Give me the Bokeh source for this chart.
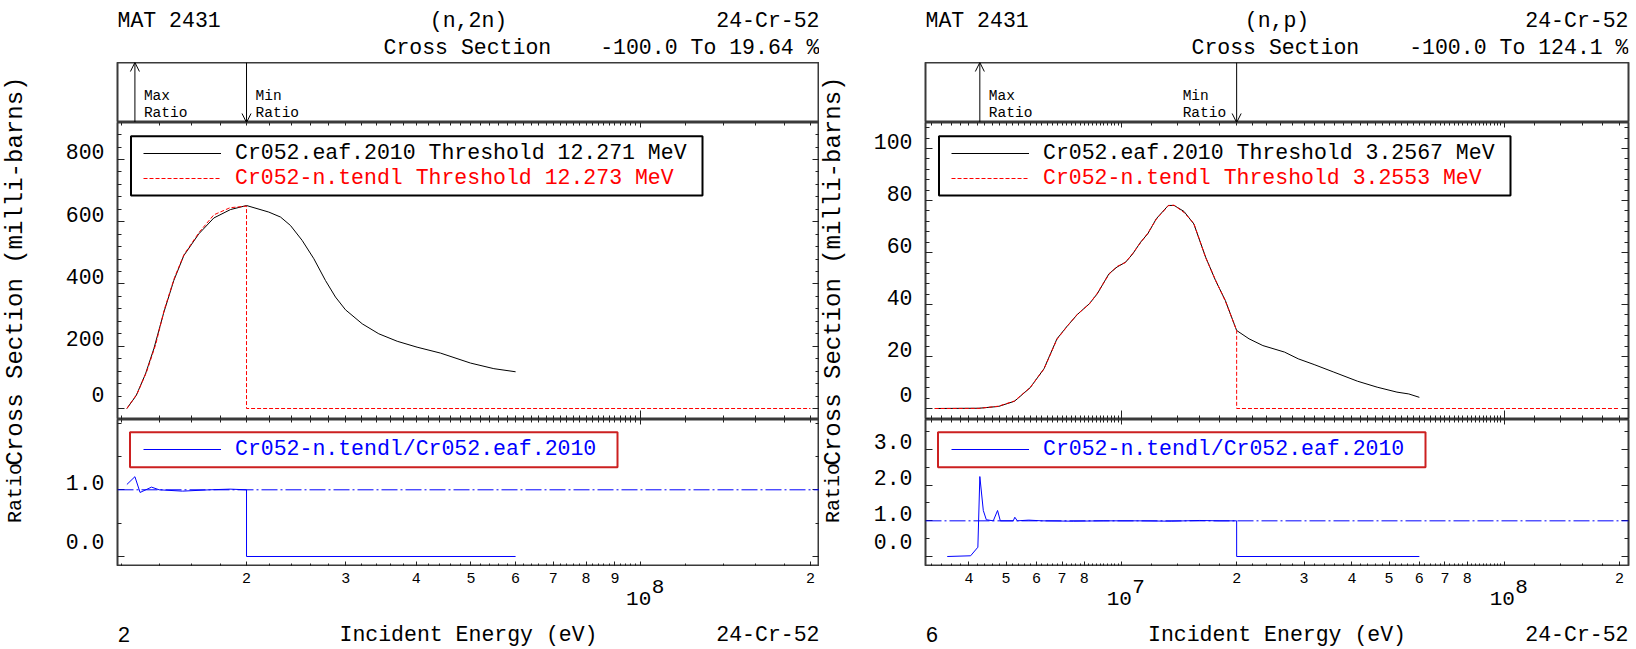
import math
import numpy as np
from bokeh.plotting import figure
from bokeh.models import (Range1d, LogAxis, LinearAxis, FixedTicker, CustomJSTickFormatter,
                          Label, Arrow, OpenHead, Span, BoxAnnotation, Legend, LegendItem)
from bokeh.layouts import column, row
from bokeh.embed import file_html
from bokeh.resources import INLINE
from bokeh.core.properties import value

# ---------------- data ----------------
mat_label = "MAT 2431"
nuclide = "24-Cr-52"
eaf_name = "Cr052.eaf.2010"
tendl_name = "Cr052-n.tendl"
quantity = "Cross Section"
x_title = "Incident Energy (eV)"
y_title_main = "Cross Section (milli-barns)"
y_title_ratio = "Ratio"

# ---- panel 1 : (n,2n)
n2n_reaction = "(n,2n)"
n2n_range_text = "-100.0 To 19.64 %"
n2n_page = "2"
n2n_eaf_threshold = "12.271 MeV"
n2n_tendl_threshold = "12.273 MeV"
n2n_eaf_e = [1.2271e7, 1.275e7, 1.324e7, 1.37e7, 1.427e7, 1.486e7, 1.548e7, 1.646e7, 1.75e7,
             1.873e7, 2.0e7, 2.19e7, 2.298e7, 2.393e7, 2.51e7, 2.633e7, 2.761e7, 2.876e7,
             2.996e7, 3.208e7, 3.432e7, 3.70e7, 4.013e7, 4.416e7, 4.99e7, 5.49e7, 6.0e7]
n2n_eaf_xs = [0, 42, 111, 192, 309, 411, 491, 561, 612, 639, 652, 631, 615, 588, 540, 481,
              411, 358, 317, 272, 240, 216, 197, 178, 146, 128, 118]
n2n_tendl_e = [1.2273e7, 1.28e7, 1.33e7, 1.38e7, 1.43e7, 1.49e7, 1.55e7, 1.65e7, 1.75e7,
               1.87e7, 2.0e7, 2.0e7, 2.0e8]
n2n_tendl_xs = [0, 48, 118, 205, 318, 420, 495, 567, 622, 645, 650, 0, 0]
n2n_ratio_e = [1.2271e7, 1.268e7, 1.295e7, 1.357e7, 1.40e7, 1.54e7, 1.72e7, 1.87e7, 2.0e7,
               2.0e7, 6.0e7]
n2n_ratio = [1.08, 1.1964, 0.96, 1.04, 1.0, 0.98, 1.0, 1.01, 1.0, 0.0, 0.0]
n2n_x_range = (1.181e7, 2.075e8)
n2n_y_range = (-35.3, 918.7)
n2n_ratio_range = (-0.15, 2.054)
n2n_y_major = [0, 200, 400, 600, 800]
n2n_ratio_major = [0, 1]
n2n_digit_ticks = [2e7, 3e7, 4e7, 5e7, 6e7, 7e7, 8e7, 9e7, 2e8]
n2n_digit_labels = ["2", "3", "4", "5", "6", "7", "8", "9", "2"]
n2n_decades = [1e8]
n2n_decade_exps = ["8"]

# ---- panel 2 : (n,p)
np_reaction = "(n,p)"
np_range_text = "-100.0 To 124.1 %"
np_page = "6"
np_eaf_threshold = "3.2567 MeV"
np_tendl_threshold = "3.2553 MeV"
np_eaf_e = [3.2567e6, 4.25e6, 4.78e6, 5.26e6, 5.78e6, 6.28e6, 6.79e6, 7.24e6, 7.68e6, 8.25e6,
            8.65e6, 9.28e6, 9.74e6, 1.026e7, 1.071e7, 1.123e7, 1.172e7, 1.234e7, 1.326e7,
            1.373e7, 1.457e7, 1.546e7, 1.66e7, 1.762e7, 1.869e7, 2.0e7, 2.155e7, 2.342e7,
            2.667e7, 2.897e7, 3.187e7, 3.587e7, 4.136e7, 4.656e7, 5.243e7, 5.63e7, 6.0e7]
np_eaf_xs = [0, 0.1, 0.8, 2.8, 8.0, 15.3, 26.8, 31.9, 36.2, 40.3, 44.1, 51.8, 54.4, 56.3, 59.5,
             64.0, 67.2, 73.0, 78.1, 78.1, 75.8, 71.0, 58.2, 49.2, 41.5, 30.0, 26.8, 24.2,
             21.7, 19.1, 16.9, 14.0, 10.5, 8.2, 6.3, 5.6, 4.3]
np_tendl_e = [3.2553e6, 4.25e6, 4.78e6, 5.26e6, 5.78e6, 6.28e6, 6.79e6, 7.24e6, 7.68e6, 8.25e6,
              8.65e6, 9.28e6, 9.74e6, 1.026e7, 1.071e7, 1.123e7, 1.172e7, 1.234e7, 1.326e7,
              1.373e7, 1.457e7, 1.546e7, 1.66e7, 1.762e7, 1.869e7, 2.0e7, 2.0e7, 2.0e8]
np_tendl_xs = [0, 0.05, 0.9, 2.9, 8.1, 15.2, 26.6, 31.8, 36.3, 40.2, 44.3, 51.6, 54.6, 56.2,
               59.7, 63.8, 67.4, 72.8, 78.0, 78.2, 75.4, 71.2, 58.0, 49.4, 41.3, 30.0, 0, 0]
np_ratio_e = [3.51e6, 4.04e6, 4.22e6, 4.27e6, 4.36e6, 4.44e6, 4.63e6, 4.75e6, 4.83e6, 5.22e6,
              5.27e6, 5.35e6, 5.73e6, 6.2e6, 7.5e6, 9.0e6, 1.1e7, 1.35e7, 1.6e7, 1.8e7,
              2.0e7, 2.0e7, 6.0e7]
np_ratio = [0.0, 0.02, 0.26, 2.241, 1.29, 1.03, 1.0, 1.29, 1.0, 1.0, 1.10, 1.0, 1.02, 1.0,
            0.99, 1.0, 1.0, 0.99, 1.01, 1.0, 1.0, 0.0, 0.0]
np_x_range = (3.08e6, 2.11e8)
np_y_range = (-4.23, 110.0)
np_ratio_range = (-0.28, 3.84)
np_y_major = [0, 20, 40, 60, 80, 100]
np_ratio_major = [0, 1, 2, 3]
np_digit_ticks = [4e6, 5e6, 6e6, 7e6, 8e6, 2e7, 3e7, 4e7, 5e7, 6e7, 7e7, 8e7, 2e8]
np_digit_labels = ["4", "5", "6", "7", "8", "2", "3", "4", "5", "6", "7", "8", "2"]
np_decades = [1e7, 1e8]
np_decade_exps = ["7", "8"]

# ---------------- style ----------------
FONT = "Liberation Mono"
TXT = "21.5px"
FRAME = "#3a3a3a"
TICK = "#222222"
HEAD_H, TOP_H, MAIN_H, RAT_H, FOOT_H = 62, 60, 297, 147, 82
TOTAL_H = HEAD_H + TOP_H + MAIN_H + RAT_H + FOOT_H


def hidden_fmt():
    return CustomJSTickFormatter(code="return ''")


def raised_fmt(decimals):
    # labels sit a little above their tick, as in the original plot
    return CustomJSTickFormatter(code=f"return tick.toFixed({decimals}) + '\\n';")


def x_minor(lo, hi, exclude):
    out = []
    e = math.floor(math.log10(lo))
    while 10 ** e <= hi:
        d = 10 ** e
        for i in range(0, 45):
            v = d * (1 + 0.2 * i)
            if lo <= v <= hi and all(abs(v - t) > 1e-6 * v for t in exclude):
                out.append(v)
        e += 1
    return out


def add_x_axis(p, place, majors, minors, tin, min_in):
    ax = LogAxis(ticker=FixedTicker(ticks=majors, minor_ticks=minors),
                 formatter=hidden_fmt(),
                 major_tick_in=tin, major_tick_out=0, minor_tick_in=min_in, minor_tick_out=0,
                 major_tick_line_color=TICK, minor_tick_line_color=TICK,
                 axis_line_color=None, major_label_standoff=0,
                 major_label_text_font_size="0px")
    p.add_layout(ax, place)


def add_y_axis(p, place, majors, minors, fmt=None, fs="0px", standoff=0):
    ax = LinearAxis(ticker=FixedTicker(ticks=majors, minor_ticks=minors),
                    formatter=fmt if fmt is not None else hidden_fmt(),
                    major_tick_in=7, major_tick_out=0, minor_tick_in=4, minor_tick_out=0,
                    major_tick_line_color=TICK, minor_tick_line_color=TICK,
                    axis_line_color=None, major_label_standoff=standoff,
                    major_label_text_font=FONT, major_label_text_font_size=fs,
                    major_label_text_line_height=0.5,
                    major_label_text_color="black")
    p.add_layout(ax, place)


def lab(p, text, x, y, align="left", size=TXT, color="black", xu="screen",
        x_offset=0, baseline="middle", angle=0.0):
    p.add_layout(Label(x=x, y=y, x_units=xu, y_units="screen", text=text, text_font=FONT,
                       text_font_size=size, text_color=color, text_align=align,
                       text_baseline=baseline, x_offset=x_offset, angle=angle))


def title_column(w, cx):
    f = figure(frame_width=w, frame_height=TOTAL_H, x_range=Range1d(0, 1),
               y_range=Range1d(0, 1), toolbar_location=None, output_backend="svg",
               tools="", title=None, min_border=0, x_axis_location=None,
               y_axis_location=None, outline_line_color=None,
               background_fill_color="white", border_fill_color="white")
    f.grid.visible = False
    main_c = TOTAL_H - (HEAD_H + TOP_H + MAIN_H / 2)
    rat_c = TOTAL_H - (HEAD_H + TOP_H + MAIN_H + RAT_H / 2)
    lab(f, y_title_main, cx, main_c, align="center", size="24px", angle=math.pi / 2)
    lab(f, y_title_ratio, cx, rat_c, align="center", size="20px", angle=math.pi / 2)
    return f


def make_panel(c, bl, br, fw):
    xr = Range1d(*c["xr"])
    common = dict(x_axis_type="log", x_range=xr, frame_width=fw, toolbar_location=None,
                  output_backend="svg", tools="", title=None, min_border_left=bl,
                  min_border_right=br, min_border_top=0, min_border_bottom=0,
                  x_axis_location=None, y_axis_location=None,
                  background_fill_color="white", border_fill_color="white",
                  outline_line_color=FRAME, outline_line_width=2)
    head = figure(frame_height=HEAD_H, y_range=Range1d(0, 1), **common)
    top = figure(frame_height=TOP_H, y_range=Range1d(0, 1), **common)
    main = figure(frame_height=MAIN_H, y_range=Range1d(*c["yr"]), **common)
    rat = figure(frame_height=RAT_H, y_range=Range1d(*c["rr"]), **common)
    foot = figure(frame_height=FOOT_H, y_range=Range1d(0, 1), **common)
    head.outline_line_color = None
    foot.outline_line_color = None
    for f in (head, top, main, rat, foot):
        f.grid.visible = False

    # ----- header
    lab(head, mat_label, 0, 42)
    lab(head, c["reaction"], fw / 2, 42, align="center")
    lab(head, nuclide, fw, 42, align="right")
    lab(head, quantity, 266, 15)
    lab(head, c["range_text"], fw, 15, align="right")

    # ----- max / min ratio arrows
    re_ = np.array(c["ratio_e"])
    rv = np.array(c["ratio"])
    i_max = int(np.argmax(rv))
    i_min = i_max + int(np.argmin(rv[i_max:]))
    x_max = float(re_[i_max])
    x_min = float(re_[i_min])
    top.add_layout(Arrow(x_start=x_max, y_start=0, x_end=x_max, y_end=1,
                         end=OpenHead(size=9, line_color="black", line_width=1),
                         line_color="black", line_width=1))
    top.add_layout(Arrow(x_start=x_min, y_start=1, x_end=x_min, y_end=0,
                         end=OpenHead(size=9, line_color="black", line_width=1),
                         line_color="black", line_width=1))
    lab(top, "Max", x_max, 27, xu="data", x_offset=9, size="14.5px")
    lab(top, "Ratio", x_max, 10, xu="data", x_offset=9, size="14.5px")
    off = c["min_off"]
    lab(top, "Min", x_min, 27, xu="data", x_offset=off, size="14.5px")
    lab(top, "Ratio", x_min, 10, xu="data", x_offset=off, size="14.5px")

    # ----- ticks
    lo, hi = c["xr"]
    digits = c["digits"]
    decs = c["decades"]
    minors_all = x_minor(lo, hi, decs)
    minors_nodec = x_minor(lo, hi, decs + digits)
    add_x_axis(main, "above", decs, minors_all, 5, 3)
    add_x_axis(main, "below", decs, minors_all, 9, 4)
    add_x_axis(rat, "above", decs, minors_all, 5, 3)
    add_x_axis(rat, "below", digits + decs, minors_nodec, 5, 3)

    ymaj = c["ymaj"]
    step = c["yminor_step"]
    ylo, yhi = c["yr"]
    ymin_ = [k * step for k in range(int(math.ceil(ylo / step)), int(yhi / step) + 1)
             if all(abs(k * step - t) > 1e-9 for t in ymaj)]
    add_y_axis(main, "left", ymaj, ymin_, fmt=raised_fmt(0), fs=TXT, standoff=13)
    add_y_axis(main, "right", ymaj, ymin_)

    rmaj = c["rmaj"]
    rlo, rhi = c["rr"]
    rmin_ = [k * 0.5 for k in range(int(math.ceil(rlo / 0.5)), int(rhi / 0.5) + 1)
             if all(abs(k * 0.5 - t) > 1e-9 for t in rmaj)]
    add_y_axis(rat, "left", rmaj, rmin_, fmt=raised_fmt(1), fs=TXT, standoff=13)
    add_y_axis(rat, "right", rmaj, rmin_)

    # ----- curves
    r_eaf = main.line(c["eaf_e"], c["eaf_xs"], line_color="black", line_width=1)
    r_tendl = main.line(c["tendl_e"], c["tendl_xs"], line_color="red", line_width=1,
                        line_dash="4 2")
    rat.add_layout(Span(location=1.0, dimension="width", line_color="blue", line_width=1,
                        line_dash="16 3 2 3"))
    r_rat = rat.line(c["ratio_e"], c["ratio"], line_color="blue", line_width=1)

    # ----- legends
    leg_common = dict(padding=0, margin=0, spacing=0, glyph_width=78, glyph_height=26,
                      label_height=26, label_standoff=14, label_text_font=FONT,
                      label_text_font_size=TXT, border_line_color=None,
                      background_fill_alpha=0)
    main.add_layout(Legend(items=[LegendItem(label=value(f"{eaf_name} Threshold {c['eaf_thr']}"),
                                             renderers=[r_eaf])],
                           location=(26, MAIN_H - 31 - 13), label_text_color="black",
                           **leg_common))
    main.add_layout(Legend(items=[LegendItem(label=value(f"{tendl_name} Threshold {c['tendl_thr']}"),
                                             renderers=[r_tendl])],
                           location=(26, MAIN_H - 55.7 - 13), label_text_color="red",
                           **leg_common))
    main.add_layout(BoxAnnotation(left=13.5, right=585, top=MAIN_H - 13.7, bottom=MAIN_H - 73,
                                  left_units="screen", right_units="screen",
                                  top_units="screen", bottom_units="screen",
                                  fill_color=None, fill_alpha=0, line_color="black",
                                  line_alpha=1.0, line_width=2))
    rat.add_layout(Legend(items=[LegendItem(label=value(f"{tendl_name}/{eaf_name}"),
                                            renderers=[r_rat])],
                          location=(26, RAT_H - 30 - 13), label_text_color="blue",
                          **leg_common))
    rat.add_layout(BoxAnnotation(left=12.5, right=500, top=RAT_H - 12.7, bottom=RAT_H - 47.7,
                                 left_units="screen", right_units="screen",
                                 top_units="screen", bottom_units="screen",
                                 fill_color=None, fill_alpha=0, line_color="#cc2020",
                                 line_alpha=1.0, line_width=2))

    # ----- footer: tick labels, decade labels, bottom line
    for t, s in zip(digits, c["digit_labels"]):
        lab(foot, s, t, FOOT_H - 11, xu="data", align="center", size="15px")
    for d, ex in zip(decs, c["exps"]):
        lab(foot, "10", d, FOOT_H - 32, xu="data", align="center", size="21px", x_offset=-2)
        lab(foot, ex, d, FOOT_H - 20, xu="data", align="left", size="21px", x_offset=11)
    lab(foot, c["page"], 0, 14)
    lab(foot, x_title, fw / 2, 14, align="center")
    lab(foot, nuclide, fw, 14, align="right")

    return column(head, top, main, rat, foot)


left = make_panel(dict(xr=n2n_x_range, yr=n2n_y_range, rr=n2n_ratio_range,
                       reaction=n2n_reaction, range_text=n2n_range_text, page=n2n_page,
                       eaf_thr=n2n_eaf_threshold, tendl_thr=n2n_tendl_threshold,
                       eaf_e=n2n_eaf_e, eaf_xs=n2n_eaf_xs, tendl_e=n2n_tendl_e,
                       tendl_xs=n2n_tendl_xs, ratio_e=n2n_ratio_e, ratio=n2n_ratio,
                       ymaj=n2n_y_major, yminor_step=40, rmaj=n2n_ratio_major,
                       digits=n2n_digit_ticks, digit_labels=n2n_digit_labels,
                       decades=n2n_decades, exps=n2n_decade_exps, min_off=9),
                  87, 0, 702)
right = make_panel(dict(xr=np_x_range, yr=np_y_range, rr=np_ratio_range,
                        reaction=np_reaction, range_text=np_range_text, page=np_page,
                        eaf_thr=np_eaf_threshold, tendl_thr=np_tendl_threshold,
                        eaf_e=np_eaf_e, eaf_xs=np_eaf_xs, tendl_e=np_tendl_e,
                        tendl_xs=np_tendl_xs, ratio_e=np_ratio_e, ratio=np_ratio,
                        ymaj=np_y_major, yminor_step=4, rmaj=np_ratio_major,
                        digits=np_digit_ticks, digit_labels=np_digit_labels,
                        decades=np_decades, exps=np_decade_exps, min_off=-54),
                   76, 3, 703)

page = row(title_column(30, 15), left, title_column(30, 14), right)
open("out.html", "w").write(file_html(page, INLINE))
